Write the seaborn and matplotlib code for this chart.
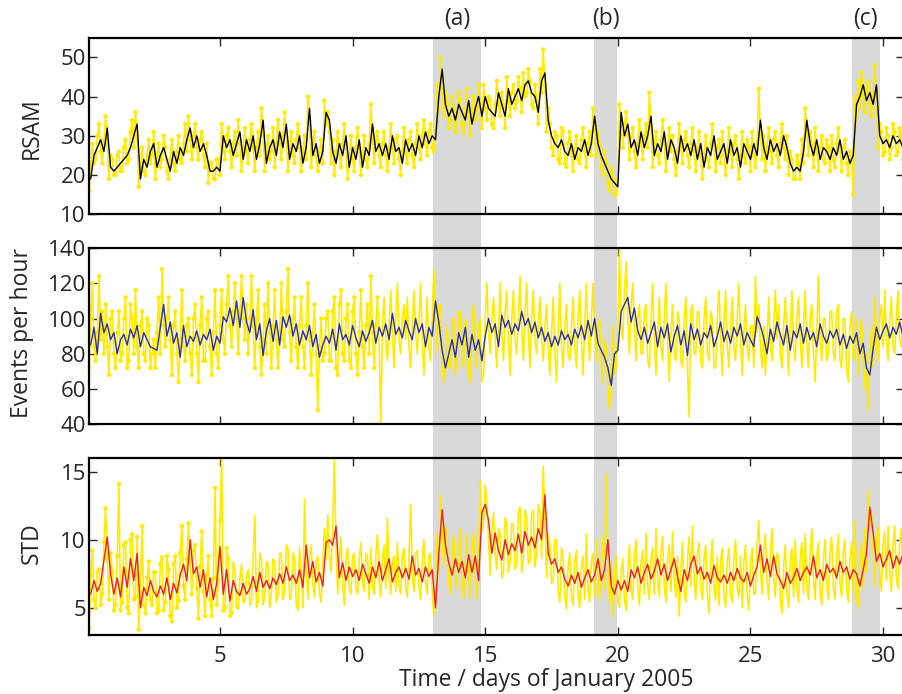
import numpy as np
import pandas as pd
import matplotlib
matplotlib.use("Agg")
import matplotlib.pyplot as plt
import matplotlib.transforms as mtransforms
from matplotlib.patches import Rectangle
import seaborn as sns

# ---------------- data: raw series (1.5-hourly), smoothed series (3-hourly) ----------------
rsam_raw = [
    16,22, 28,23, 24,30, 33,26, 23,29, 35,28, 19,25, 24,20,
    20,25, 26,21, 21,27, 29,23, 24,31, 34,27, 36,30, 17,22,
    27,21, 20,25, 29,23, 25,31, 19,25, 28,22, 24,30, 27,21,
    19,24, 29,23, 21,26, 30,24, 23,28, 33,26, 35,29, 24,30,
    33,27, 24,29, 31,25, 22,28, 18,23, 23,19, 19,24, 24,20,
    33,27, 24,30, 32,26, 22,28, 31,25, 34,28, 21,27, 32,26,
    23,29, 33,27, 21,27, 31,25, 37,31, 21,26, 30,24, 26,32,
    22,28, 34,28, 24,30, 36,30, 21,27, 31,25, 23,29, 33,27,
    21,26, 30,24, 40,34, 22,28, 31,25, 21,26, 29,23, 39,33,
    36,31, 23,29, 20,26, 31,25, 22,28, 33,27, 19,25, 30,24,
    21,27, 32,26, 20,25, 30,24, 22,28, 38,30, 23,29, 31,25,
    22,28, 31,25, 21,27, 33,27, 23,29, 30,24, 20,26, 32,26,
    23,29, 31,25, 22,28, 33,27, 24,30, 34,28, 25,31, 33,27,
    26,32, 43,37, 50,44, 35,41, 38,32, 34,40, 37,31, 35,41,
    39,33, 31,37, 42,36, 30,36, 40,34, 37,43, 38,32, 43,37,
    34,40, 39,33, 32,38, 44,38, 35,41, 38,32, 45,39, 35,41,
    43,37, 39,45, 42,36, 46,40, 41,47, 44,38, 37,43, 39,33,
    47,41, 52,43, 31,37, 33,27, 25,31, 30,24, 23,32, 31,23,
    22,28, 31,25, 21,27, 30,24, 23,29, 32,26, 22,28, 31,25,
    37,32, 25,31, 28,22, 20,26, 23,18, 16,22, 19,15, 15,19,
    38,33, 27,33, 36,30, 24,30, 32,26, 22,28, 34,28, 24,30,
    33,27, 41,32, 22,28, 31,25, 23,29, 34,28, 21,27, 32,26,
    30,24, 20,26, 33,27, 23,29, 31,25, 22,28, 32,26, 21,27,
    31,25, 19,25, 30,24, 22,28, 33,27, 21,27, 29,23, 31,25,
    20,26, 32,26, 22,28, 30,24, 19,25, 31,25, 23,29, 27,21,
    31,25, 22,28, 42,31, 24,30, 21,27, 32,26, 23,29, 31,25,
    22,28, 33,27, 24,30, 20,26, 24,19, 19,25, 23,19, 29,23,
    37,31, 25,31, 28,22, 32,26, 21,27, 30,24, 23,29, 27,21,
    30,24, 22,28, 32,26, 21,27, 29,23, 20,26, 23,15, 40,35,
    44,37, 46,40, 36,42, 44,38, 35,41, 48,40, 27,33, 31,25,
    26,32, 30,24, 27,33, 31,25, 26,32, 30,24,
]
rsam_smooth = [
    19, 25, 27, 29, 26, 32, 22, 21,
    22, 23, 24, 25, 27, 30, 33, 19,
    24, 22, 26, 28, 22, 25, 27, 24,
    21, 26, 23, 27, 25, 29, 32, 27,
    30, 26, 28, 25, 21, 21, 22, 21,
    30, 27, 29, 25, 28, 31, 24, 29,
    26, 30, 24, 28, 34, 23, 27, 29,
    25, 31, 27, 33, 24, 28, 26, 30,
    23, 27, 37, 25, 28, 23, 26, 36,
    34, 26, 23, 28, 25, 30, 22, 27,
    24, 29, 22, 27, 25, 33, 26, 28,
    25, 28, 24, 30, 26, 27, 23, 29,
    26, 28, 25, 30, 27, 31, 28, 30,
    29, 40, 47, 38, 35, 37, 34, 38,
    36, 34, 39, 33, 37, 40, 35, 40,
    37, 36, 35, 41, 38, 35, 42, 38,
    40, 42, 39, 43, 44, 41, 40, 36,
    44, 46, 34, 30, 28, 27, 29, 26,
    25, 28, 24, 27, 26, 29, 25, 28,
    35, 28, 25, 23, 21, 19, 18, 17,
    36, 30, 33, 27, 29, 25, 31, 27,
    30, 35, 25, 28, 26, 31, 24, 29,
    27, 23, 30, 26, 28, 25, 29, 24,
    28, 22, 27, 25, 30, 24, 26, 28,
    23, 29, 25, 27, 22, 28, 26, 24,
    28, 25, 34, 27, 24, 29, 26, 28,
    25, 30, 27, 23, 21, 22, 21, 26,
    34, 28, 25, 29, 24, 27, 26, 24,
    27, 25, 29, 24, 26, 23, 25, 38,
    40, 43, 39, 41, 38, 43, 30, 28,
    29, 27, 30, 28, 29, 27,
]
events_raw = [
    72,100, 120,84, 76,92, 124,88, 104,80, 108,84, 68,100, 104,80,
    72,92, 104,76, 80,100, 112,72, 76,108, 100,80, 116,84, 72,96,
    104,80, 76,100, 96,72, 80,88, 72,92, 112,80, 128,96, 84,100,
    112,88, 68,96, 104,80, 64,88, 116,84, 76,96, 100,80, 68,100,
    108,80, 64,96, 112,76, 76,100, 104,84, 68,92, 116,80, 72,96,
    116,88, 80,108, 124,96, 84,104, 120,100, 80,104, 124,100, 88,108,
    80,100, 124,96, 72,100, 116,84, 68,88, 108,80, 120,92, 72,96,
    116,88, 72,92, 120,88, 84,104, 128,92, 76,100, 112,84, 72,96,
    112,84, 72,96, 120,88, 68,92, 108,80, 48,84, 100,76, 80,100,
    104,76, 76,104, 112,72, 68,108, 116,80, 76,100, 108,76, 72,104,
    112,80, 68,92, 116,84, 72,96, 108,80, 124,92, 72,96, 112,84,
    40,96, 112,88, 76,96, 116,92, 72,100, 120,88, 80,100, 108,88,
    112,84, 72,96, 116,92, 80,100, 120,88, 68,92, 112,84, 76,100,
    128,100, 80,108, 108,72, 64,84, 96,72, 72,100, 100,68, 76,104,
    104,76, 72,100, 96,68, 64,100, 108,76, 72,96, 100,64, 68,100,
    120,92, 80,100, 112,88, 72,96, 120,92, 76,104, 116,88, 68,100,
    116,88, 80,100, 124,96, 76,104, 120,92, 72,100, 116,88, 80,96,
    112,88, 76,96, 108,84, 68,92, 112,80, 64,92, 120,84, 72,96,
    108,80, 76,96, 112,84, 72,100, 116,88, 68,96, 120,92, 76,100,
    120,92, 76,96, 100,72, 64,88, 84,60, 48,72, 96,68, 72,92,
    140,96, 88,116, 132,100, 80,108, 120,96, 76,100, 108,80, 80,104,
    108,76, 72,100, 120,88, 68,92, 112,84, 76,100, 120,88, 64,92,
    108,80, 76,104, 100,76, 72,100, 112,72, 44,104, 108,80, 80,104,
    104,76, 72,100, 112,80, 76,104, 100,72, 72,100, 116,88, 68,96,
    116,84, 72,96, 112,84, 76,100, 120,88, 68,92, 108,84, 76,96,
    96,72, 124,92, 108,84, 72,96, 68,88, 112,84, 76,96, 116,88,
    108,80, 72,96, 112,88, 68,92, 116,84, 76,100, 112,88, 72,96,
    116,84, 72,100, 108,80, 64,92, 124,88, 76,100, 100,76, 80,104,
    104,80, 76,104, 108,76, 72,100, 100,72, 64,96, 104,76, 80,100,
    68,88, 100,76, 60,80, 48,76, 96,72, 112,88, 76,100, 108,84,
    116,88, 76,100, 112,84, 80,100, 116,88, 84,96,
]
events_smooth = [
    85, 95, 80, 103, 92, 97, 88, 92,
    80, 88, 91, 85, 94, 89, 96, 84,
    92, 88, 84, 83, 82, 95, 108, 90,
    98, 86, 92, 78, 96, 84, 90, 87,
    93, 85, 91, 88, 94, 82, 90, 86,
    101, 98, 106, 96, 110, 95, 112, 98,
    92, 105, 88, 97, 79, 93, 100, 87,
    99, 85, 101, 95, 102, 90, 97, 85,
    93, 88, 96, 84, 91, 78, 85, 90,
    86, 94, 82, 97, 88, 91, 85, 96,
    89, 84, 93, 87, 92, 99, 86, 95,
    90, 97, 88, 103, 91, 95, 89, 99,
    93, 88, 100, 92, 97, 84, 95, 90,
    110, 98, 82, 72, 80, 88, 78, 92,
    85, 95, 78, 91, 82, 88, 76, 90,
    100, 92, 97, 84, 102, 95, 99, 91,
    97, 93, 104, 96, 100, 92, 98, 89,
    95, 87, 92, 84, 90, 85, 93, 88,
    91, 85, 94, 89, 96, 88, 99, 90,
    100, 86, 82, 78, 72, 62, 80, 82,
    104, 108, 112, 98, 106, 93, 88, 95,
    86, 92, 98, 84, 95, 89, 97, 81,
    90, 96, 85, 93, 79, 97, 88, 94,
    85, 92, 89, 96, 84, 90, 98, 87,
    93, 86, 95, 90, 97, 85, 92, 88,
    84, 101, 96, 89, 80, 94, 87, 98,
    91, 85, 96, 82, 93, 89, 97, 86,
    95, 88, 92, 84, 97, 90, 86, 93,
    89, 94, 85, 91, 83, 90, 86, 92,
    80, 86, 72, 68, 83, 95, 88, 93,
    97, 89, 95, 91, 98, 90,
]
std_raw = [
    3.5,7.4, 9.2,5.6, 5.0,7.6, 7.8,5.2, 6.0,9.8, 12.3,8.6, 5.6,9.0, 7.6,4.8,
    5.2,8.8, 14.1,4.8, 5.4,9.6, 9.8,5.0, 4.6,10.0, 10.4,5.6, 5.8,10.2, 3.4,6.2,
    11.0,5.2, 4.6,7.2, 8.4,5.6, 5.2,7.6, 7.6,4.6, 4.8,8.2, 8.7,4.8, 5.4,8.8,
    7.8,4.4, 4.0,8.2, 8.8,5.0, 5.5,9.0, 11.0,6.6, 5.6,8.6, 11.2,8.4, 6.0,9.2,
    9.6,6.4, 4.2,8.0, 10.6,6.2, 4.4,7.4, 8.8,5.6, 4.4,7.2, 13.8,5.2, 7.0,11.4,
    16.0,4.8, 5.0,9.4, 8.6,4.4, 4.6,8.4, 7.8,5.0, 4.9,7.2, 8.2,5.4, 5.4,7.4,
    7.8,5.2, 5.6,8.8, 11.8,5.0, 5.4,9.0, 8.6,5.2, 5.8,8.4, 8.2,5.0, 6.0,8.6,
    8.4,5.4, 5.9,9.0, 9.0,5.6, 6.2,9.6, 9.4,5.6, 5.8,9.0, 8.6,5.2, 4.8,9.4,
    7.6,5.0, 13.0,7.8, 5.6,8.8, 9.6,6.8, 5.8,8.4, 8.8,6.0, 5.4,8.2, 10.8,8.6,
    11.8,8.8, 7.6,11.0, 16.0,9.4, 6.0,8.8, 10.2,6.8, 5.2,8.6, 9.4,6.4, 6.0,8.8,
    9.0,6.4, 6.0,8.6, 9.8,6.8, 6.2,9.0, 8.6,5.6, 9.4,6.6, 6.0,8.8, 10.4,7.0,
    5.8,8.6, 9.6,6.4, 11.6,7.2, 6.0,8.4, 8.8,6.2, 9.8,6.6, 6.0,8.8, 9.4,6.4,
    5.8,8.6, 12.6,7.4, 6.2,9.0, 9.2,6.6, 5.6,8.4, 10.0,6.8, 6.0,8.8, 9.0,6.4,
    4.4,6.2, 10.5,7.8, 13.2,10.6, 8.0,11.0, 10.2,6.8, 6.0,9.0, 10.4,7.0, 6.4,9.2,
    10.8,7.0, 5.6,8.8, 10.4,7.4, 5.8,9.2, 10.6,7.2, 5.6,8.6, 14.3,10.6, 11.0,14.0,
    12.8,10.0, 7.4,10.6, 12.0,9.0, 7.8,10.8, 10.4,7.2, 7.6,11.6, 11.2,7.6, 8.4,11.2,
    11.0,7.8, 8.2,12.0, 12.4,7.6, 8.6,12.2, 11.6,8.2, 8.4,11.8, 12.2,8.0, 9.0,12.6,
    12.0,8.6, 15.4,11.6, 7.2,10.4, 9.6,6.8, 7.0,10.0, 10.0,6.2, 5.4,9.4, 8.8,5.8,
    4.9,8.0, 9.0,5.8, 5.2,8.4, 9.2,6.0, 5.0,8.0, 8.8,5.6, 10.4,6.4, 5.4,8.4,
    9.0,5.8, 10.0,7.2, 5.6,8.6, 10.2,6.4, 14.8,8.4, 5.2,8.0, 4.4,7.6, 8.8,5.4,
    5.0,7.8, 8.6,5.6, 4.8,7.6, 9.6,6.2, 5.6,8.8, 10.0,6.4, 5.2,8.4, 9.2,6.0,
    10.5,6.6, 5.6,8.6, 9.4,6.0, 10.8,7.0, 5.8,9.0, 10.2,6.6, 5.4,8.6, 9.6,6.2,
    10.6,7.0, 5.8,8.8, 4.4,7.6, 9.8,6.2, 5.4,8.6, 10.2,6.6, 11.0,7.2, 5.6,9.0,
    9.8,6.4, 5.6,8.6, 9.6,6.0, 4.6,8.4, 10.0,6.4, 5.6,8.8, 5.2,8.4, 9.4,5.8,
    5.0,8.4, 9.4,6.0, 5.4,8.6, 10.0,6.4, 5.8,8.8, 5.0,8.4, 9.6,6.0, 4.8,8.2,
    9.4,6.0, 6.0,9.6, 11.4,8.0, 6.0,9.2, 10.4,7.0, 5.6,8.8, 10.8,7.2, 5.8,9.0,
    8.8,5.6, 4.6,8.0, 9.6,6.0, 5.0,8.4, 9.4,5.8, 10.0,6.4, 5.4,8.6, 9.8,6.0,
    10.4,6.6, 5.6,9.0, 10.8,7.2, 5.6,8.8, 9.8,6.2, 5.2,8.6, 10.0,6.6, 5.6,9.2,
    10.2,6.4, 5.6,8.8, 10.4,6.8, 5.8,9.2, 10.0,6.4, 5.4,8.6, 9.8,6.0, 11.4,5.6,
    5.0,8.2, 9.8,6.4, 10.8,7.6, 13.6,11.0, 12.0,9.0, 6.6,10.0, 11.0,7.6, 6.2,9.6,
    10.6,7.0, 11.0,7.6, 6.2,9.6, 11.0,7.2, 6.4,9.8, 10.8,7.4,
]
std_smooth = [
    6.0, 7.0, 6.2, 6.8, 8.5, 10.2, 7.5, 6.0,
    7.2, 5.8, 8.0, 6.5, 8.6, 7.0, 9.0, 5.0,
    6.5, 5.9, 7.0, 6.2, 5.8, 6.6, 6.0, 7.2,
    5.6, 6.8, 6.1, 7.4, 8.2, 7.0, 10.0, 7.5,
    8.0, 6.5, 7.8, 5.8, 7.2, 5.6, 6.8, 9.5,
    6.0, 7.8, 5.5, 7.0, 6.2, 5.9, 6.8, 6.0,
    6.4, 7.3, 6.2, 7.6, 6.5, 7.0, 6.4, 7.2,
    6.7, 7.5, 6.8, 8.0, 7.0, 7.4, 6.8, 7.8,
    6.5, 9.6, 7.2, 8.4, 6.9, 7.6, 6.6, 9.8,
    10.0, 9.6, 11.0, 7.2, 8.3, 7.0, 8.0, 7.3,
    7.8, 7.0, 8.2, 7.5, 6.8, 8.0, 7.2, 8.4,
    7.0, 7.8, 8.6, 6.9, 7.6, 8.0, 7.2, 7.9,
    7.1, 8.8, 7.4, 7.9, 6.9, 8.0, 7.3, 7.8,
    5.0, 9.0, 12.2, 9.6, 8.3, 7.4, 8.6, 7.6,
    8.4, 7.2, 8.9, 7.6, 8.8, 7.0, 12.0, 12.6,
    11.4, 9.0, 10.5, 9.2, 8.5, 10.0, 8.9, 9.7,
    9.2, 10.4, 9.0, 10.6, 9.6, 10.2, 9.4, 10.8,
    10.0, 13.3, 9.0, 8.2, 8.6, 7.6, 8.0, 7.1,
    6.6, 7.4, 6.8, 7.6, 6.5, 7.2, 7.8, 6.9,
    7.4, 8.6, 7.0, 7.8, 10.0, 6.6, 6.0, 7.0,
    6.3, 7.0, 6.2, 7.8, 7.2, 8.0, 6.8, 7.6,
    8.2, 7.1, 7.7, 8.6, 7.4, 8.2, 7.0, 7.8,
    8.6, 7.3, 6.2, 7.8, 7.0, 8.2, 8.8, 7.5,
    8.0, 7.1, 7.6, 6.8, 8.1, 7.2, 6.9, 7.4,
    6.8, 7.6, 7.0, 7.9, 7.2, 6.9, 7.6, 6.6,
    7.4, 8.0, 9.6, 7.6, 8.6, 7.3, 8.8, 7.5,
    7.0, 6.4, 7.6, 6.8, 7.2, 7.9, 7.0, 7.6,
    8.0, 7.4, 8.8, 7.2, 7.8, 7.0, 8.2, 7.6,
    7.9, 7.2, 8.4, 7.6, 8.0, 7.1, 7.8, 7.5,
    6.6, 7.8, 9.0, 12.4, 10.5, 8.4, 9.0, 8.0,
    8.6, 9.2, 7.9, 8.8, 8.2, 9.0,
]
time_raw = np.arange(1, len(rsam_raw) + 1) / 16.0       # days of January 2005
time_smooth = np.arange(1, len(rsam_smooth) + 1) / 8.0

# highlighted episodes
episode_start = [13.03, 19.10, 28.82]
episode_end = [14.84, 19.97, 29.87]
episode_label = ["(a)", "(b)", "(c)"]

panel_ylabels = ["RSAM", "Events per hour", "STD"]
panel_ylims = [(10, 55), (40, 140), (3, 16)]
panel_yticks = [[10, 20, 30, 40, 50], [40, 60, 80, 100, 120, 140], [5, 10, 15]]
x_ticks = [5, 10, 15, 20, 25, 30]

df_raw = pd.DataFrame({"t": time_raw, "rsam": rsam_raw, "events": events_raw, "std": std_raw})
df_smooth = pd.DataFrame({"t": time_smooth, "rsam": rsam_smooth, "events": events_smooth, "std": std_smooth})

# ---------------- style ----------------
sns.set_style("ticks")
plt.rcParams["font.family"] = ["Open Sans", "DejaVu Sans"]
plt.rcParams["font.size"] = 16
plt.rcParams["xtick.direction"] = "in"
plt.rcParams["ytick.direction"] = "in"

YELLOW = "#ffeb00"
GRAY = "#d9d9d9"
smooth_colors = ["#000000", "#2e3192", "#ed1c24"]

W, H = 902, 694
fig = plt.figure(figsize=(W / 100, H / 100), dpi=100)
left_px, right_px = 88.7, 903.5
panel_px = [(37.7, 214.3), (248.0, 424.3), (458.0, 635.0)]
axes = []
for top, bot in panel_px:
    ax = fig.add_axes([left_px / W, 1 - bot / H, (right_px - left_px) / W, (bot - top) / H])
    ax.set_facecolor("none")
    axes.append(ax)

xlim = (0.05, 30.77)
cols = ["rsam", "events", "std"]
marker_until = [40, 11.0, 5.5]

for i, ax in enumerate(axes):
    c = cols[i]
    sns.lineplot(data=df_raw, x="t", y=c, ax=ax, color=YELLOW, lw=1.2, estimator=None, zorder=2)
    sub = df_raw[df_raw["t"] < marker_until[i]]
    sns.scatterplot(data=sub, x="t", y=c, ax=ax, color=YELLOW, s=10, edgecolor="none", zorder=2)
    sns.lineplot(data=df_smooth, x="t", y=c, ax=ax, color=smooth_colors[i], lw=1.0, estimator=None, zorder=3)
    ax.set_xlim(*xlim)
    ax.set_ylim(*panel_ylims[i])
    ax.set_yticks(panel_yticks[i])
    ax.set_xticks(x_ticks)
    ax.tick_params(axis="both", which="both", direction="in", length=6, width=1.0,
                   top=True, right=True, labelsize=16)
    ax.tick_params(axis="y", pad=2)
    ax.tick_params(axis="x", pad=8)
    for sp in ax.spines.values():
        sp.set_linewidth(1.6)
        sp.set_color("black")
    ax.set_xlabel("")
    ax.set_ylabel(panel_ylabels[i], fontsize=16.5, va="center")
    if i < 2:
        ax.tick_params(axis="x", labelbottom=False)

axes[0].yaxis.set_label_coords((32 - left_px) / (right_px - left_px), 0.49)
axes[1].yaxis.set_label_coords((22 - left_px) / (right_px - left_px), 0.52)
axes[2].yaxis.set_label_coords((32 - left_px) / (right_px - left_px), 0.52)

axes[2].set_xlabel("Time / days of January 2005", fontsize=16.5)
axes[2].xaxis.set_label_coords((546 - left_px) / (right_px - left_px), -0.185)

# gray episode bands spanning all panels (behind the transparent axes)
trans = mtransforms.blended_transform_factory(axes[2].transData, fig.transFigure)
y0 = 1 - panel_px[2][1] / H
y1 = 1 - panel_px[0][0] / H
for s, e, lab in zip(episode_start, episode_end, episode_label):
    fig.patches.append(Rectangle((s, y0), e - s, y1 - y0, transform=trans,
                                 facecolor=GRAY, edgecolor="none", zorder=-5))
    fig.text((s + e) / 2, 1 - 19 / H, lab, transform=trans, ha="center", va="center",
             fontsize=16.5)

fig.savefig("out.png", dpi=100)
